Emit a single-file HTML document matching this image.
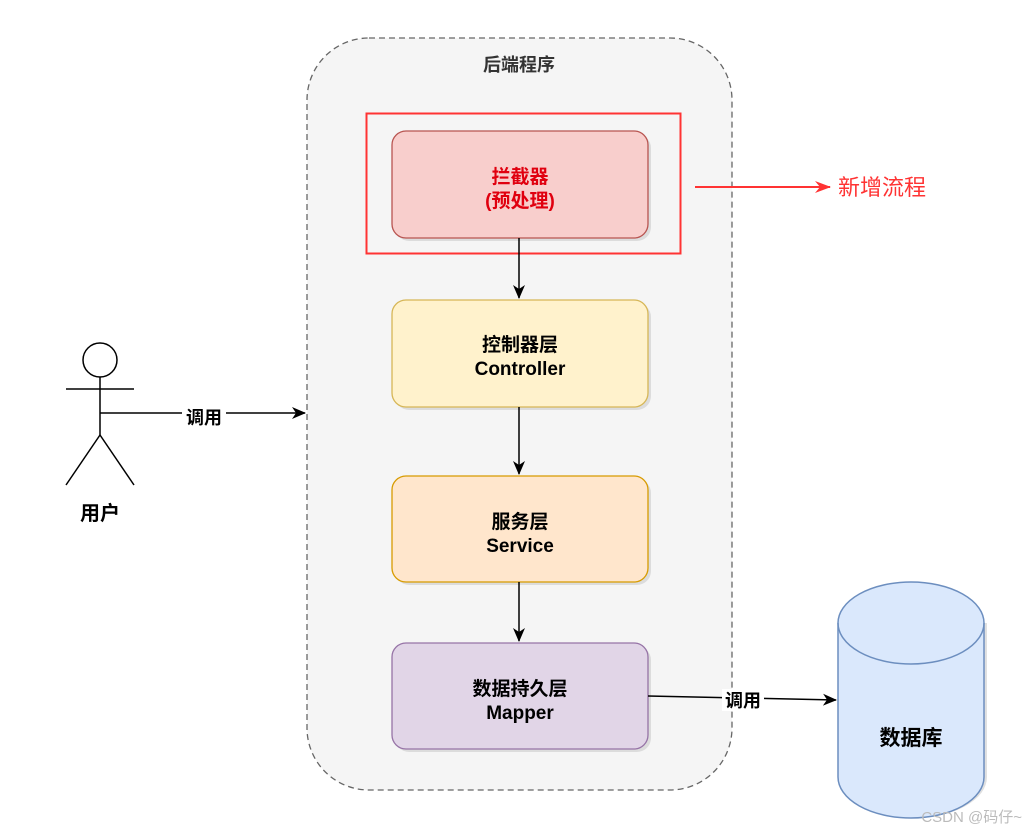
<!DOCTYPE html>
<html><head><meta charset="utf-8"><style>
body{margin:0;background:#fff;}
svg text{font-family:"Liberation Sans","Noto Sans CJK SC",sans-serif;}
</style></head><body>
<svg width="1029" height="834" viewBox="0 0 1029 834" xmlns="http://www.w3.org/2000/svg">
<defs>
<marker id="ar" markerWidth="14" markerHeight="14" refX="13" refY="7" orient="auto" markerUnits="userSpaceOnUse"><path d="M0,1 L14,7 L0,13 L4,7 Z" fill="#000"/></marker>
<marker id="arr" markerWidth="16" markerHeight="12" refX="15" refY="6" orient="auto" markerUnits="userSpaceOnUse"><path d="M0,0 L16,6 L0,12 L5,6 Z" fill="#ff3333"/></marker>
</defs>
<rect x="307" y="38" width="425" height="752" rx="62" fill="#f5f5f5" stroke="#666" stroke-width="1.3" stroke-dasharray="6,4"/>
<text x="519" y="71" font-size="18" font-weight="bold" fill="#333" text-anchor="middle">后端程序</text>
<rect x="366.5" y="113.5" width="314" height="140" fill="none" stroke="#ff3333" stroke-width="2"/>
<g font-size="19" font-weight="bold" text-anchor="middle">
<rect x="395" y="134" width="256" height="107" rx="14" fill="#ccc" opacity="0.6"/>
<rect x="392" y="131" width="256" height="107" rx="14" fill="#f8cecc" stroke="#b85450" stroke-width="1.3"/>
<text x="520" y="183" fill="#e0000f">拦截器</text><text x="520" y="207" fill="#e0000f">(预处理)</text>
<rect x="395" y="303" width="256" height="107" rx="14" fill="#ccc" opacity="0.6"/>
<rect x="392" y="300" width="256" height="107" rx="14" fill="#fff2cc" stroke="#d6b656" stroke-width="1.3"/>
<text x="520" y="351">控制器层</text><text x="520" y="375">Controller</text>
<rect x="395" y="479" width="256" height="106" rx="14" fill="#ccc" opacity="0.6"/>
<rect x="392" y="476" width="256" height="106" rx="14" fill="#ffe6cc" stroke="#d79b00" stroke-width="1.3"/>
<text x="520" y="528">服务层</text><text x="520" y="552">Service</text>
<rect x="395" y="646" width="256" height="106" rx="14" fill="#ccc" opacity="0.6"/>
<rect x="392" y="643" width="256" height="106" rx="14" fill="#e1d5e7" stroke="#9673a6" stroke-width="1.3"/>
<text x="520" y="695">数据持久层</text><text x="520" y="719">Mapper</text>
</g>
<g stroke="#000" stroke-width="1.5" fill="none">
<line x1="519" y1="238" x2="519" y2="298" marker-end="url(#ar)"/>
<line x1="519" y1="407" x2="519" y2="474" marker-end="url(#ar)"/>
<line x1="519" y1="582" x2="519" y2="641" marker-end="url(#ar)"/>
<line x1="648" y1="696" x2="836" y2="700" marker-end="url(#ar)"/>
<line x1="100" y1="413" x2="305" y2="413" marker-end="url(#ar)"/>
<circle cx="100" cy="360" r="17" fill="#fff"/>
<line x1="66" y1="389" x2="134" y2="389"/>
<line x1="100" y1="377" x2="100" y2="435"/>
<line x1="100" y1="435" x2="66" y2="485"/>
<line x1="100" y1="435" x2="134" y2="485"/>
</g>
<rect x="182" y="403" width="44" height="22" fill="#fff"/>
<text x="204" y="424" font-size="18" font-weight="bold" text-anchor="middle">调用</text>
<rect x="722" y="689" width="42" height="22" fill="#fff"/>
<text x="743" y="707" font-size="18" font-weight="bold" text-anchor="middle">调用</text>
<text x="100" y="520" font-size="20" font-weight="bold" text-anchor="middle">用户</text>
<line x1="695" y1="187" x2="830" y2="187" stroke="#ff3333" stroke-width="2" marker-end="url(#arr)"/>
<text x="838" y="195" font-size="22" fill="#ff3333">新增流程</text>
<path d="M841,623 L841,777 A73,41 0 0 0 987,777 L987,623" fill="#ccc" opacity="0.6"/>
<path d="M838,623 L838,777 A73,41 0 0 0 984,777 L984,623 A73,41 0 0 0 838,623 Z" fill="#dae8fc" stroke="#6c8ebf" stroke-width="1.5"/>
<path d="M838,623 A73,41 0 0 0 984,623" fill="none" stroke="#6c8ebf" stroke-width="1.5"/>
<text x="911" y="745" font-size="21" font-weight="bold" text-anchor="middle">数据库</text>
<text x="1022" y="822" font-size="15" fill="#bbb" text-anchor="end">CSDN @码仔~</text>
</svg>
</body></html>
